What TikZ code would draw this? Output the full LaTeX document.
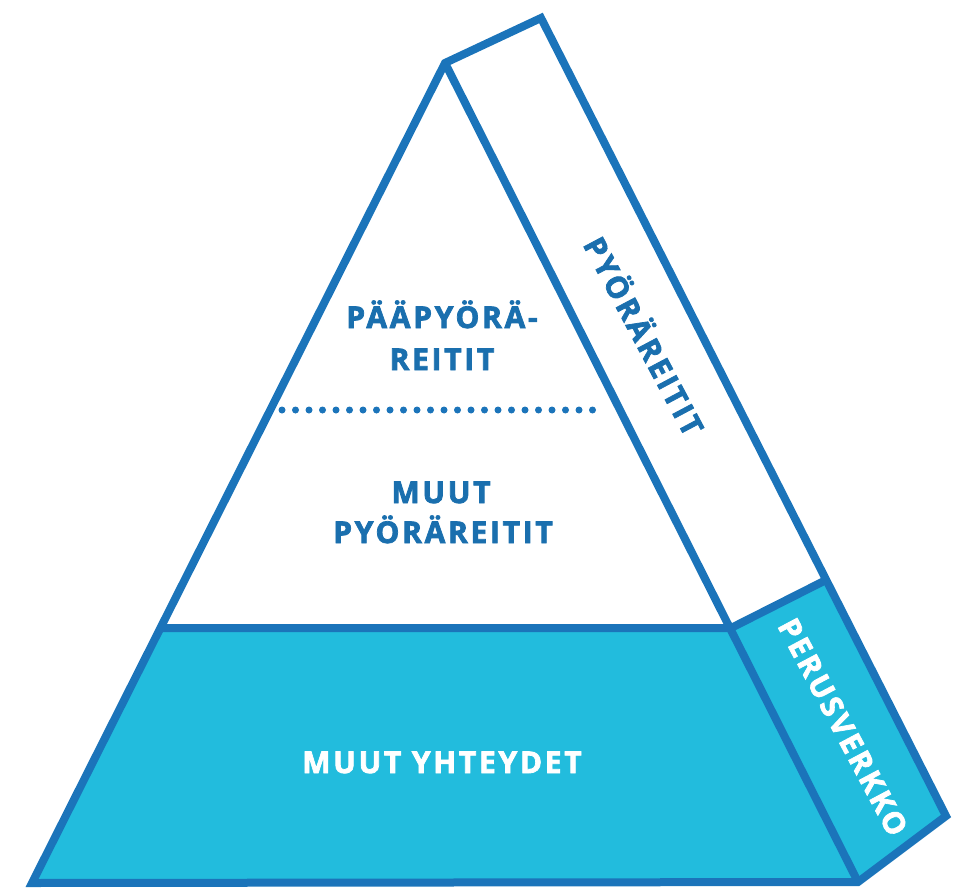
\documentclass[tikz,border=0pt]{standalone}
\usepackage{fontspec}
\setmainfont{Open Sans}
\definecolor{edgeblue}{HTML}{1B74BA}
\definecolor{fillcyan}{HTML}{22BCDD}
\definecolor{textblue}{HTML}{1A6FAE}
\begin{document}
\begin{tikzpicture}[x=1pt,y=-1pt,
  edge/.style={draw=edgeblue,line width=8pt,line join=miter},
  lbl/.style={font=\fontsize{30}{36}\selectfont\bfseries\addfontfeatures{LetterSpace=9,FakeBold=2.5},inner sep=0pt},
  bluelbl/.style={lbl,text=textblue},
  whitelbl/.style={lbl,text=white}]
\useasboundingbox (0,0) rectangle (968,893);
\coordinate (A) at (445,63);
\coordinate (B) at (541,18);
\coordinate (C) at (946,816);
\coordinate (D) at (858,882);
\coordinate (E) at (32,883);
\coordinate (F) at (160,628);
\coordinate (G) at (731,628);
\coordinate (H) at (826,580);
\coordinate (P1) at (282,410);
\coordinate (P2) at (606,410);
% fills
\fill[fillcyan] (E) -- (F) -- (G) -- (D) -- cycle;
\fill[fillcyan] (G) -- (H) -- (C) -- (D) -- cycle;
% outlines
\draw[edge] (A) -- (B) -- (C) -- (D) -- (E) -- cycle;
\draw[edge] (A) -- (D);
\draw[edge] (F) -- (G) -- (H);
% dotted separator
\draw[edgeblue,line width=7pt,line cap=round,dash pattern=on 0pt off 13.5pt] (P1) -- (P2);
% labels
\node[bluelbl,anchor=base] (l1) at (442,328) {PÄÄPYÖRÄ-};
\node[bluelbl,anchor=base] (l2) at (442,370) {REITIT};
\node[bluelbl,anchor=base] (l3) at (441,503) {MUUT};
\node[bluelbl,anchor=base] (l4) at (443,543) {PYÖRÄREITIT};
\node[whitelbl,anchor=base] (l5) at (442,773) {MUUT YHTEYDET};
\node[bluelbl,rotate=-62] (l6) at (646,335) {PYÖRÄREITIT};
\node[whitelbl,rotate=-62] (l7) at (843,727) {PERUSVERKKO};
\end{tikzpicture}
\end{document}
